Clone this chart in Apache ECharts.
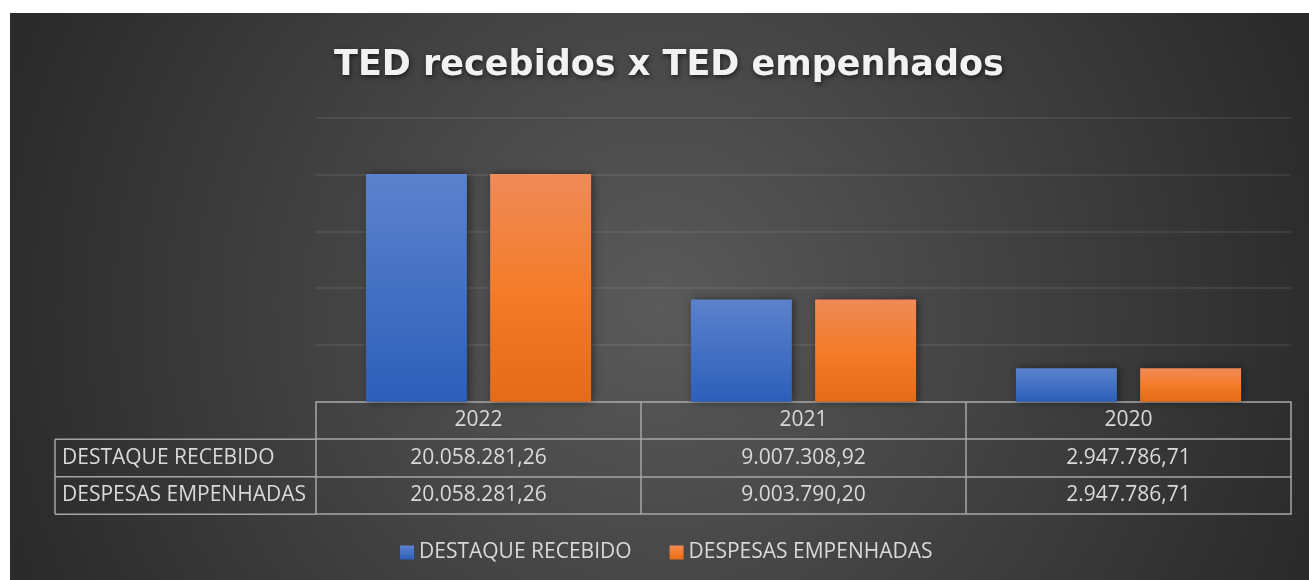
<!DOCTYPE html>
<html>
<head>
<meta charset="utf-8">
<script src="https://cdn.jsdelivr.net/npm/echarts@6/dist/echarts.min.js"></script>
<style>
  html, body { margin: 0; padding: 0; background: #ffffff; }
  #chart {
    position: absolute; left: 10px; top: 13px; width: 1299px; height: 567px;
    background: radial-gradient(circle 690px at 50% 52%, #5a5a5a 0%, #2a2a2a 100%);
  }
</style>
</head>
<body>
<div id="chart"></div>
<script>
// ---- data ----
const title = 'TED recebidos x TED empenhados';
const categories = ['2022', '2021', '2020'];
const seriesNames = ['DESTAQUE RECEBIDO', 'DESPESAS EMPENHADAS'];
const destaqueRecebido = [20058281.26, 9007308.92, 2947786.71];
const despesasEmpenhadas = [20058281.26, 9003790.20, 2947786.71];
const yTicks = [0, 5000000, 10000000, 15000000, 20000000, 25000000];

// ---- helpers ----
function fmtBR(v) {
  const parts = v.toFixed(2).split('.');
  const intPart = parts[0].replace(/\B(?=(\d{3})+(?!\d))/g, '.');
  return intPart + ',' + parts[1];
}

const W = 1299, H = 567;
const GRID_LEFT = 306, GRID_RIGHT = 18, GRID_TOP = 105, GRID_BOTTOM = 178.3;
const ROW = 37.5;
const TABLE_LEFT = 45;
const axisY = H - GRID_BOTTOM;
const LINE_COLOR = '#a6a6a6';
const TEXT_COLOR = '#d9d9d9';
const FONT = '"Open Sans", sans-serif';
const FS = 21;

const chart = echarts.init(document.getElementById('chart'), null, { renderer: 'canvas', width: W, height: H });

function tableAxis(idx, rowValues) {
  const hasLabels = rowValues !== null;
  return {
    type: 'category',
    data: categories,
    position: 'bottom',
    offset: idx * ROW,
    boundaryGap: true,
    axisLine: { show: true, lineStyle: { color: LINE_COLOR, width: 1.5 } },
    axisTick: { show: hasLabels, interval: 0, length: ROW, lineStyle: { color: LINE_COLOR, width: 1.5 } },
    axisLabel: {
      show: hasLabels,
      interval: 0,
      color: TEXT_COLOR,
      fontFamily: FONT,
      fontSize: FS,
      verticalAlign: 'middle',
      margin: ROW / 2,
      formatter: function (v, i) { return rowValues ? rowValues[i] : v; }
    },
    splitLine: { show: false }
  };
}

const blueGrad = new echarts.graphic.LinearGradient(0, 0, 0, 1, [
  { offset: 0, color: '#5c82cd' }, { offset: 1, color: '#2c5fba' }
]);
const orangeGrad = new echarts.graphic.LinearGradient(0, 0, 0, 1, [
  { offset: 0, color: '#f08a58' }, { offset: 0.5, color: '#f47c2a' }, { offset: 1, color: '#e46b17' }
]);

const rowTexts = [seriesNames[0], seriesNames[1]];
const graphics = [];
for (let r = 1; r <= 3; r++) {
  graphics.push({
    type: 'line',
    shape: { x1: TABLE_LEFT, y1: axisY + r * ROW, x2: GRID_LEFT, y2: axisY + r * ROW },
    style: { stroke: LINE_COLOR, lineWidth: 1.5 }
  });
}
graphics.push({
  type: 'line',
  shape: { x1: TABLE_LEFT, y1: axisY + ROW, x2: TABLE_LEFT, y2: axisY + 3 * ROW },
  style: { stroke: LINE_COLOR, lineWidth: 1.5 }
});
rowTexts.forEach(function (t, i) {
  graphics.push({
    type: 'text',
    x: TABLE_LEFT + 7,
    y: axisY + (1.5 + i) * ROW,
    style: { text: t, fill: TEXT_COLOR, font: FS + 'px ' + FONT, textVerticalAlign: 'middle', verticalAlign: 'middle', textAlign: 'left', align: 'left' }
  });
});

const option = {
  animation: false,
  backgroundColor: 'transparent',
  title: {
    text: title,
    left: 654,
    textAlign: 'center',
    top: 30,
    textStyle: {
      color: '#f2f2f2',
      fontFamily: '"DejaVu Sans", sans-serif',
      fontWeight: 'bold',
      fontSize: 35,
      textShadowColor: 'rgba(0,0,0,0.6)',
      textShadowBlur: 5,
      textShadowOffsetX: 1,
      textShadowOffsetY: 2
    }
  },
  legend: {
    data: seriesNames,
    left: 385,
    top: 524,
    icon: 'rect',
    itemWidth: 14,
    itemHeight: 14,
    itemGap: 38,
    textStyle: { color: TEXT_COLOR, fontFamily: FONT, fontSize: FS }
  },
  grid: { left: GRID_LEFT, right: GRID_RIGHT, top: GRID_TOP, bottom: GRID_BOTTOM, containLabel: false },
  xAxis: [
    tableAxis(0, categories),
    tableAxis(1, destaqueRecebido.map(fmtBR)),
    tableAxis(2, despesasEmpenhadas.map(fmtBR)),
    tableAxis(3, null)
  ],
  yAxis: {
    type: 'value',
    min: yTicks[0],
    max: yTicks[yTicks.length - 1],
    interval: yTicks[1] - yTicks[0],
    axisLabel: { show: false },
    axisLine: { show: false },
    axisTick: { show: false },
    splitLine: { show: true, lineStyle: { color: 'rgba(255,255,255,0.1)', width: 1.5 } }
  },
  series: [
    {
      name: seriesNames[0],
      type: 'bar',
      xAxisIndex: 0,
      data: destaqueRecebido,
      barWidth: 101,
      barGap: '23%',
      itemStyle: { color: blueGrad, shadowBlur: 8, shadowColor: 'rgba(0,0,0,0.45)', shadowOffsetX: 2 }
    },
    {
      name: seriesNames[1],
      type: 'bar',
      xAxisIndex: 0,
      data: despesasEmpenhadas,
      barWidth: 101,
      barGap: '23%',
      itemStyle: { color: orangeGrad, shadowBlur: 8, shadowColor: 'rgba(0,0,0,0.45)', shadowOffsetX: 2 }
    }
  ],
  graphic: graphics
};
chart.setOption(option);
</script>
</body>
</html>
